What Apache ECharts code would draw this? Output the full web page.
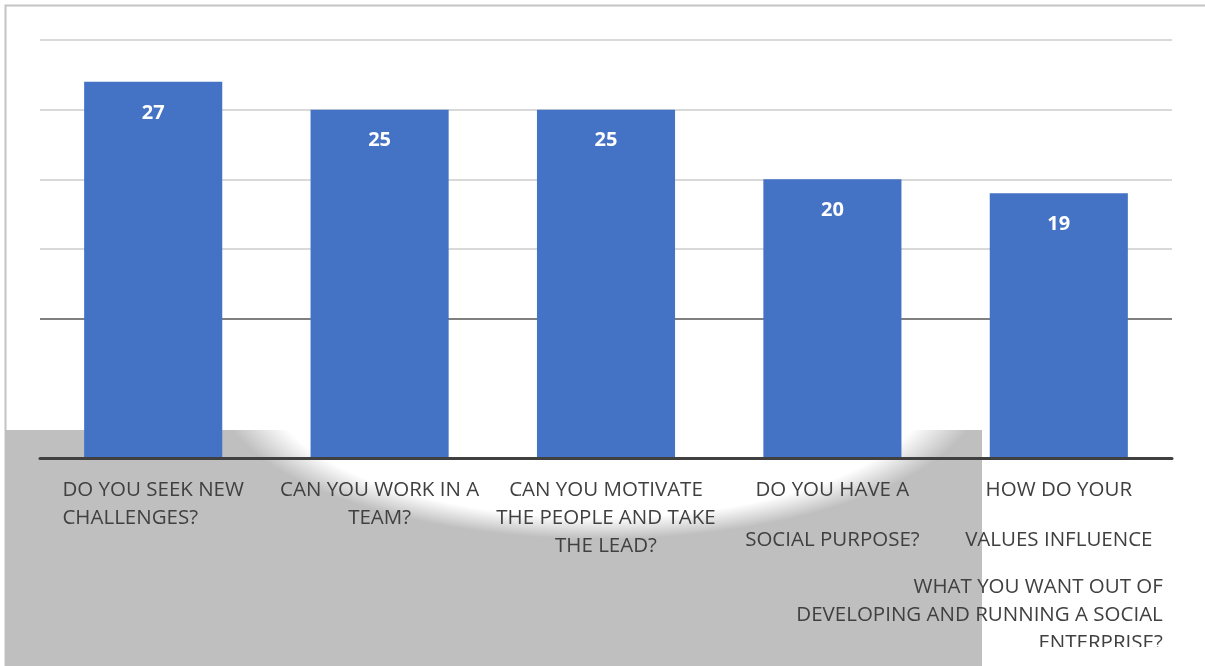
<!DOCTYPE html>
<html><head><meta charset="utf-8">
<script src="https://cdn.jsdelivr.net/npm/echarts@6/dist/echarts.min.js"></script>
<style>html,body{margin:0;padding:0;background:#fff}#c{width:1205px;height:666px}</style>
</head><body><div id="c"></div>
<script>
const categories = [
  'DO YOU SEEK NEW CHALLENGES?',
  'CAN YOU WORK IN A TEAM?',
  'CAN YOU MOTIVATE THE PEOPLE AND TAKE THE LEAD?',
  'DO YOU HAVE A SOCIAL PURPOSE?',
  'HOW DO YOUR VALUES INFLUENCE WHAT YOU WANT OUT OF DEVELOPING AND RUNNING A SOCIAL ENTERPRISE?'
];
const values = [27, 25, 25, 20, 19];
const labelLines = [
  ['DO YOU SEEK NEW', 'CHALLENGES?'],
  ['CAN YOU WORK IN A', 'TEAM?'],
  ['CAN YOU MOTIVATE', 'THE PEOPLE AND TAKE', 'THE LEAD?'],
  ['DO YOU HAVE A', '', 'SOCIAL PURPOSE?'],
  ['HOW DO YOUR', '', 'VALUES INFLUENCE', '', 'WHAT YOU WANT OUT OF', 'DEVELOPING AND RUNNING A SOCIAL', 'ENTERPRISE?']
];
const yMin = 0, yMax = 30, yStep = 5;

// rich style name for each line of each label
const lineStyleNames = [
  ['l', 'l'],
  ['c', 'c'],
  ['c', 'c', 'c'],
  ['c', 'sp', 'c'],
  ['c', 'spa', 'c', 'spb', 'r', 'r', 'r']
];

function fmt(value, index) {
  const lines = labelLines[index];
  return lines.map((t, i) => '{' + lineStyleNames[index][i] + '|' + (t === '' ? ' ' : t) + '}').join('\n');
}

const chart = echarts.init(document.getElementById('c'), null, {renderer: 'canvas'});
const txt = {color: '#404040', fontSize: 20.5, fontFamily: 'Open Sans', lineHeight: 28};
chart.setOption({
  animation: false,
  backgroundColor: '#ffffff',
  grid: {left: 40, right: 33, top: 40, bottom: 208, containLabel: false, outerBoundsMode: 'none'},
  xAxis: {
    type: 'category',
    data: categories,
    axisLine: {show: true, lineStyle: {color: '#404040', width: 3}},
    axisTick: {show: false},
    axisLabel: {
      interval: 0, margin: 18, formatter: fmt, hideOverlap: false,
      color: '#404040', fontSize: 20.5, fontFamily: 'Open Sans',
      rich: {
        l: Object.assign({}, txt, {align: 'left'}),
        c: Object.assign({}, txt),
        sp: Object.assign({}, txt, {lineHeight: 22}),
        spa: Object.assign({}, txt, {lineHeight: 22, width: 600, align: 'left'}),
        spb: Object.assign({}, txt, {lineHeight: 19, width: 600, align: 'left'}),
        r: Object.assign({}, txt, {align: 'right', padding: [0, 196, 0, 0]})
      }
    },
    z: 3
  },
  yAxis: {
    type: 'value', min: yMin, max: yMax, interval: yStep,
    axisLabel: {show: false}, axisLine: {show: false}, axisTick: {show: false},
    splitLine: {show: true, lineStyle: {width: 2, color: ['rgba(0,0,0,0)', 'rgba(0,0,0,0)', '#808080', '#d9d9d9', '#d9d9d9', '#d9d9d9', '#d9d9d9']}}
  },
  series: [{
    type: 'bar',
    data: values,
    barWidth: '61%',
    itemStyle: {color: '#4472c4'},
    label: {show: true, position: 'insideTop', distance: 21, color: '#ffffff', fontWeight: 'bold', fontSize: 20, fontFamily: 'Open Sans'},
    z: 2
  }],
  graphic: {
    elements: [
      {type: 'polyline', z: -3, silent: true, shape: {points: [[5.5, 666], [5.5, 5.5], [1205, 5.5]]}, style: {stroke: '#c4c4c4', lineWidth: 2, fill: null}},
      {type: 'rect', z: -2, silent: true, shape: {x: 5, y: 430, width: 977, height: 236}, style: {fill: '#bfbfbf'}},
      {type: 'circle', z: -1, silent: true, x: 600, y: 385, scaleY: 0.40, shape: {cx: 0, cy: 0, r: 385},
        style: {fill: new echarts.graphic.RadialGradient(0.5, 0.5, 0.5, [
          {offset: 0, color: 'rgba(255,255,255,1)'},
          {offset: 0.86, color: 'rgba(255,255,255,1)'},
          {offset: 1, color: 'rgba(255,255,255,0)'}
        ])}},
      {type: 'rect', z: 100, silent: true, shape: {x: 982, y: 647, width: 223, height: 19}, style: {fill: '#ffffff'}}
    ]
  }
});
</script></body></html>
